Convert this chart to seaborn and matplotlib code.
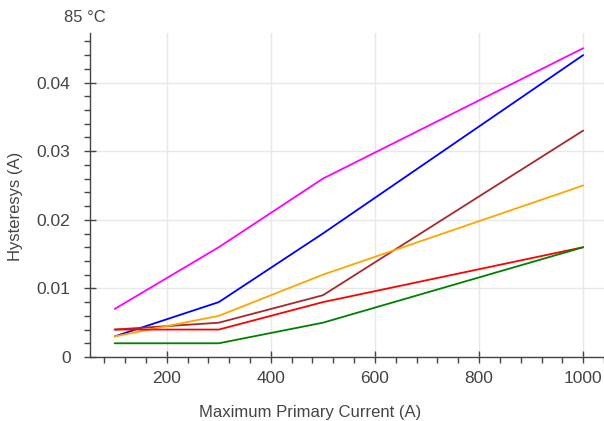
import numpy as np
import pandas as pd
import matplotlib
matplotlib.use('Agg')
import matplotlib.pyplot as plt
from matplotlib.ticker import MultipleLocator
import seaborn as sns

# data
current = [100, 300, 500, 1000]
magenta_vals = [0.007, 0.016, 0.026, 0.045]
blue_vals = [0.003, 0.008, 0.018, 0.044]
brown_vals = [0.004, 0.005, 0.009, 0.033]
orange_vals = [0.003, 0.006, 0.012, 0.025]
red_vals = [0.004, 0.004, 0.008, 0.016]
green_vals = [0.002, 0.002, 0.005, 0.016]

series = {
    'magenta': magenta_vals,
    'blue': blue_vals,
    'brown': brown_vals,
    'orange': orange_vals,
    'red': red_vals,
    'green': green_vals,
}

# build long-form table for seaborn
rows = []
for name, vals in series.items():
    for x, y in zip(current, vals):
        rows.append({'current': x, 'hysteresis': y, 'series': name})
df = pd.DataFrame(rows)

sns.set_style('white')
plt.rcParams['font.family'] = ['Liberation Sans', 'DejaVu Sans']

fig = plt.figure(figsize=(6.04, 4.21), dpi=100)
ax = fig.add_axes([0.1490, 0.152, 0.8510, 0.7696])

palette = {'magenta': '#ff00ff', 'blue': '#0000ff', 'brown': '#a52a2a',
           'orange': '#ffa500', 'red': '#ff0000', 'green': '#008000'}
sns.lineplot(data=df, x='current', y='hysteresis', hue='series',
             palette=palette, linewidth=1.3, legend=False, ax=ax)

ax.set_xlim(52.6, 1040)
ax.set_ylim(0, 0.04722)

ax.xaxis.set_major_locator(MultipleLocator(200))
ax.xaxis.set_minor_locator(MultipleLocator(40))
ax.yaxis.set_major_locator(MultipleLocator(0.01))
ax.yaxis.set_minor_locator(MultipleLocator(0.002))
ax.yaxis.set_major_formatter(plt.FuncFormatter(lambda v, p: '0' if v == 0 else f'{v:.2f}'))

ax.grid(True, which='major', color='#e8e8e8', linewidth=1)
ax.set_axisbelow(True)

for side in ['top', 'right']:
    ax.spines[side].set_visible(False)
for side in ['left', 'bottom']:
    ax.spines[side].set_color('#444444')
    ax.spines[side].set_linewidth(1)

ax.tick_params(which='both', bottom=True, left=True)
ax.tick_params(which='major', direction='inout', length=8, width=1,
               color='#444444', labelsize=12.5, labelcolor='#444444')
ax.tick_params(axis='y', which='major', pad=10)
ax.tick_params(axis='x', which='major', pad=6)
ax.tick_params(which='minor', direction='out', length=4, width=1, color='#444444')

# axis labels sit a bit off-centre in the original
ax.set_xlabel('Maximum Primary Current (A)', fontsize=12, color='#444444')
ax.set_ylabel('Hysteresys (A)', fontsize=12, color='#444444')
ax.xaxis.set_label_coords(0.429, -0.148)
ax.yaxis.set_label_coords(-0.130, 0.4645)
fig.text(64 / 604, 1 - 22 / 421, '85 °C', fontsize=12, color='#444444',
         ha='left', va='baseline')

plt.savefig('out.png', dpi=100)
